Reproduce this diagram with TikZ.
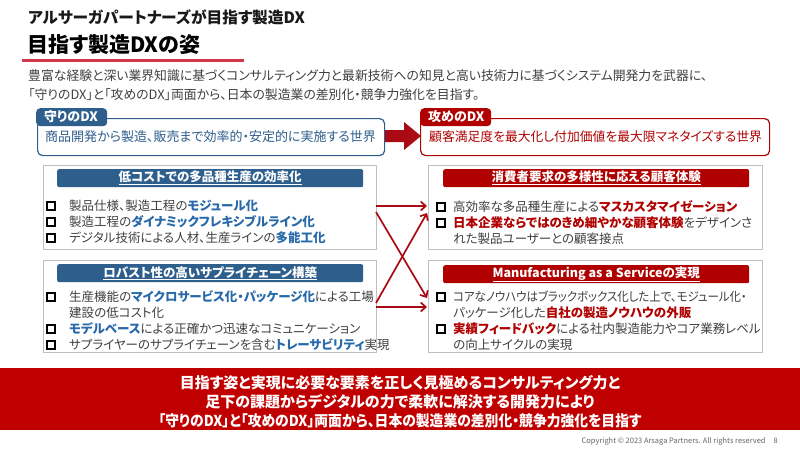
\documentclass[tikz,border=0pt]{standalone}
\usepackage{fontspec}
\usepackage{graphicx}
\setmainfont{Noto Sans CJK JP}[RawFeature=+palt]
\usetikzlibrary{arrows.meta}
\definecolor{navy}{RGB}{46,94,140}
\definecolor{hlblue}{RGB}{40,105,170}
\definecolor{dred}{RGB}{176,0,0}
\definecolor{bandred}{RGB}{192,0,0}
\definecolor{arrred}{RGB}{170,10,20}
\definecolor{txt}{RGB}{64,64,64}
\definecolor{uline}{RGB}{210,55,75}
\definecolor{gboxc}{RGB}{191,191,191}
\newcommand\hb[1]{\textbf{\textcolor{hlblue}{#1}}}
\newcommand\hr[1]{\textbf{\textcolor{dred}{#1}}}
\newcommand\fsz[1]{\fontsize{#1}{#1}\selectfont}
\tikzset{
  lbl/.style={anchor=west, inner sep=0pt, text=txt, font=\fsz{12.5}},
  cbox/.style={draw=black, fill=white, line width=2pt, minimum size=7.2pt, inner sep=0pt},
  gbox/.style={draw=gboxc, line width=0.8pt, anchor=north west, minimum width=333pt, inner sep=0pt},
  hdr/.style={rounded corners=2pt, anchor=north west, minimum width=306pt, minimum height=18pt, inner sep=0pt, text=white, font=\bfseries\fsz{12.5}},
  xarrow/.style={draw=arrred, line width=1.7pt, -{Straight Barb[length=5pt,width=9pt]}},
  frame/.style={line width=1.2pt, rounded corners=5pt, anchor=north west, minimum height=37pt, inner sep=0pt, fill=white},
  tab/.style={rounded corners=4pt, anchor=north west, minimum height=18pt, inner sep=0pt, text=white, font=\bfseries\fsz{13}},
}
\begin{document}
\begin{tikzpicture}[x=1pt,y=-1pt]
\useasboundingbox (0,0) rectangle (800,450);
\fill[white] (0,0) rectangle (800,450);
% titles
\node[anchor=west, inner sep=0pt, font=\bfseries\fsz{15.7}, text=black!90] (t1) at (28,17) {アルサーガパートナーズが目指す製造DX};
\node[anchor=west, inner sep=0pt, font=\bfseries\fsz{21}, text=black] (t2) at (27,45) {目指す製造DXの姿};
\draw[uline, line width=3pt] (22,60) -- (244,60);
% intro
\node[lbl, font=\fsz{12.85}] (b1) at (28,76) {豊富な経験と深い業界知識に基づくコンサルティング力と最新技術への知見と高い技術力に基づくシステム開発力を武器に、};
\node[lbl, font=\fsz{12.85}] (b2) at (28,95) {「守りのDX」と「攻めのDX」両面から、日本の製造業の差別化・競争力強化を目指す。};
% mamori
\node[frame, draw=navy, minimum width=347pt] (mf) at (37,118) {};
\node[tab, fill=navy, minimum width=71pt] (mt) at (36,108) {};
\node[anchor=west, inner sep=0pt, text=white, font=\bfseries\fsz{13}] (mtt) at (44,117) {守りのDX};
\node[lbl, text=navy, font=\fsz{13}] (mtx) at (45,137) {商品開発から製造、販売まで効率的・安定的に実施する世界};
% seme
\node[frame, draw=dred, minimum width=349pt] (sf) at (420,118) {};
\node[tab, fill=dred, minimum width=71pt] (st) at (420,108) {};
\node[anchor=west, inner sep=0pt, text=white, font=\bfseries\fsz{13}] (stt) at (428,117) {攻めのDX};
\node[lbl, text=dred, font=\fsz{12.8}] (stx) at (429,137) {顧客満足度を最大化し付加価値を最大限マネタイズする世界};
% big arrow
\fill[arrred] (385,130) -- (404,130) -- (404,122) -- (421,136) -- (404,150) -- (404,142) -- (385,142) -- cycle;
% left box 1
\node[gbox, minimum height=84pt] (L1) at (43,165) {};
\node[hdr, fill=navy] (L1h) at (57,169) {\underline{低コストでの多品種生産の効率化}};
\node[cbox] (L1c1) at (51,206) {};
\node[cbox] (L1c2) at (51,222) {};
\node[cbox] (L1c3) at (51,238) {};
\node[lbl] (L1a) at (69,206) {製品仕様、製造工程の\hb{モジュール化}};
\node[lbl] (L1b) at (69,222) {製造工程の\hb{ダイナミックフレキシブルライン化}};
\node[lbl] (L1d) at (69,238) {デジタル技術による人材、生産ラインの\hb{多能工化}};
% left box 2
\node[gbox, minimum height=92pt] (L2) at (43,260) {};
\node[hdr, fill=navy] (L2h) at (57,264) {\underline{ロバスト性の高いサプライチェーン構築}};
\node[cbox] (L2c1) at (51,297) {};
\node[cbox] (L2c2) at (51,329) {};
\node[cbox] (L2c3) at (51,345) {};
\node[lbl] (L2a) at (69,297) {生産機能の\hb{マイクロサービス化・パッケージ化}による工場};
\node[lbl] (L2b) at (69,313) {建設の低コスト化};
\node[lbl] (L2d) at (69,329) {\hb{モデルベース}による正確かつ迅速なコミュニケーション};
\node[lbl] (L2e) at (69,345) {サプライヤーのサプライチェーンを含む\hb{トレーサビリティ}実現};
% right box 1
\node[gbox, minimum height=84pt, minimum width=334pt] (R1) at (428,165) {};
\node[hdr, fill=dred] (R1h) at (443,169) {\underline{消費者要求の多様性に応える顧客体験}};
\node[cbox] (R1c1) at (441,207) {};
\node[cbox] (R1c2) at (441,223) {};
\node[lbl] (R1a) at (453,207) {高効率な多品種生産による\hr{マスカスタマイゼーション}};
\node[lbl] (R1b) at (453,223) {\hr{日本企業ならではのきめ細やかな顧客体験}をデザインさ};
\node[lbl] (R1d) at (453,239) {れた製品ユーザーとの顧客接点};
% right box 2
\node[gbox, minimum height=92pt, minimum width=334pt] (R2) at (428,260) {};
\node[hdr, fill=dred] (R2h) at (443,265) {\underline{Manufacturing as a Serviceの実現}};
\node[cbox] (R2c1) at (441,297) {};
\node[cbox] (R2c2) at (441,329) {};
\node[lbl] (R2a) at (453,297) {\scalebox{0.915}[1]{コアなノウハウはブラックボックス化した上で、モジュール化・}};
\node[lbl] (R2b) at (453,313) {パッケージ化した\hr{自社の製造ノウハウの外販}};
\node[lbl] (R2d) at (453,329) {\hr{実績フィードバック}による社内製造能力やコア業務レベル};
\node[lbl] (R2e) at (453,345) {の向上サイクルの実現};
% cross arrows
\coordinate (p1) at (376,206);
\coordinate (q1) at (427,206);
\coordinate (p2) at (376,212);
\coordinate (q2) at (427,298);
\coordinate (p3) at (376,303);
\coordinate (q3) at (427,213);
\coordinate (p4) at (376,307);
\coordinate (q4) at (427,307);
\draw[xarrow] (p1) -- (q1);
\draw[xarrow] (p2) -- (q2);
\draw[xarrow] (p3) -- (q3);
\draw[xarrow] (p4) -- (q4);
% bottom band
\node[fill=bandred, anchor=north west, minimum width=800pt, minimum height=62pt, inner sep=0pt] (band) at (0,368) {};
\node[align=center, text=white, font=\bfseries\fontsize{15}{19}\selectfont, inner sep=0pt] (bandt) at (400,402) {目指す姿と実現に必要な要素を正しく見極めるコンサルティング力と\\足下の課題からデジタルの力で柔軟に解決する開発力により\\\scalebox{0.92}[1]{「守りのDX」と「攻めのDX」両面から、日本の製造業の差別化・競争力強化を目指す}};
\node[anchor=east, inner sep=0pt, font=\fsz{7.5}, text=black!60] (copy) at (778,441) {Copyright © 2023 Arsaga Partners. All rights reserved\hspace{8pt}8};
\end{tikzpicture}
\end{document}
